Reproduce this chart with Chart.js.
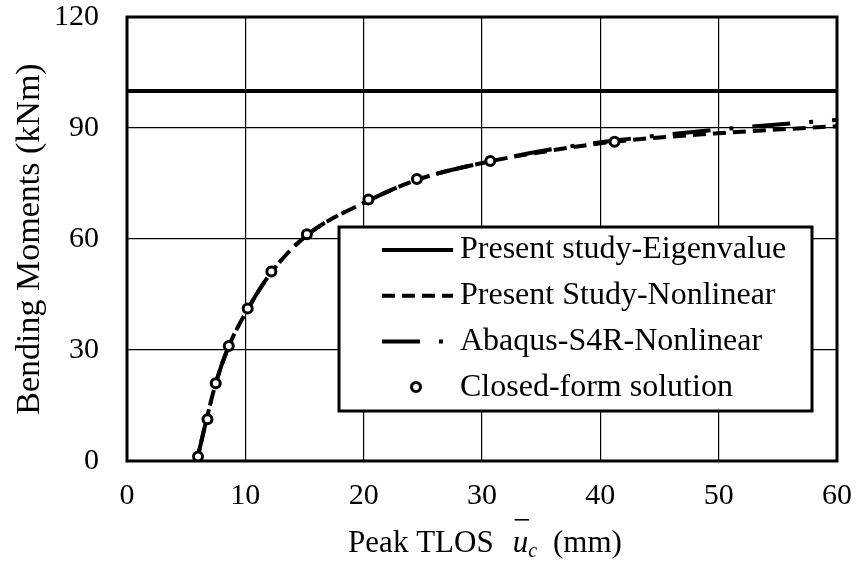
<!DOCTYPE html>
<html>
<head>
<meta charset="utf-8">
<script src="https://cdn.jsdelivr.net/npm/chart.js@4"></script>
<style>
  html, body { margin: 0; padding: 0; background: #fff; }
  #wrap { width: 857px; height: 563px; }
</style>
</head>
<body>
<div id="wrap"><canvas id="momentChart" width="857" height="563"></canvas></div>
<script>
const SERIF = '"Liberation Serif", "Times New Roman", serif';

// Present study - eigenvalue (critical moment)
const eigenX = [0, 60];
const eigenY = [100, 100];

// Present study - nonlinear
const nonlinX = [5.9, 6.7, 7.5, 8.6, 10.2, 12.2, 15.2, 20.5, 24.5, 30.7, 36, 41.2, 50, 60];
const nonlinY = [0, 11, 21, 31, 41, 51, 61, 70.5, 76, 81, 84, 86.3, 88.6, 90.5];

// Abaqus S4R - nonlinear
const abaqusX = [5.9, 6.7, 7.5, 8.6, 10.2, 12.2, 15.2, 20.5, 24.5, 30.7, 36, 41.2, 50, 60];
const abaqusY = [0, 11, 21, 31, 41, 51, 61, 70.5, 76, 81, 84.3, 86.6, 89.6, 92.2];

// closed-form solution
const closedX = [6.0, 6.8, 7.5, 8.6, 10.2, 12.2, 15.2, 20.4, 24.5, 30.7, 41.2];
const closedY = [1.2, 11.3, 21, 31.1, 41.2, 51.2, 61.3, 70.7, 76.2, 81.1, 86.3];

const xTicks = [0, 10, 20, 30, 40, 50, 60];
const yTicks = [0, 30, 60, 90, 120];

function toPoints(xs, ys) {
    return xs.map((x, i) => ({x: x, y: ys[i]}))
}

// black frame round the plot area
const framePlugin = {
    id: 'frame',
    beforeDatasetsDraw(chart) {
        const {ctx, chartArea: a} = chart
        ctx.save()
        ctx.lineWidth = 3
        ctx.strokeStyle = '#000'
        ctx.strokeRect(a.left, a.top, a.right - a.left, a.bottom - a.top)
        ctx.restore()
    }
}

// boxed legend inside the plot, built from the datasets
const boxLegend = {
    id: 'boxLegend',
    afterDraw(chart) {
        const ctx = chart.ctx
        const box = {left: 339, top: 227, right: 812, bottom: 411}
        ctx.save()
        ctx.fillStyle = '#fff'
        ctx.fillRect(box.left, box.top, box.right - box.left, box.bottom - box.top)
        ctx.lineWidth = 3
        ctx.strokeStyle = '#000'
        ctx.strokeRect(box.left, box.top, box.right - box.left, box.bottom - box.top)

        const rowH = 45.7
        let y = 250
        chart.data.datasets.forEach(ds => {
            if (ds.showLine === false) {
                ctx.beginPath()
                ctx.setLineDash([])
                ctx.lineWidth = ds.pointBorderWidth
                ctx.fillStyle = '#fff'
                ctx.arc(416, y, ds.pointRadius, 0, Math.PI * 2)
                ctx.fill()
                ctx.stroke()
            } else {
                ctx.save()
                ctx.beginPath()
                ctx.rect(382, y - 10, 71, 20)
                ctx.clip()
                ctx.beginPath()
                ctx.setLineDash(ds.borderDash || [])
                ctx.lineWidth = ds.borderWidth
                ctx.moveTo(382, y)
                ctx.lineTo(453, y)
                ctx.stroke()
                ctx.restore()
            }
            ctx.fillStyle = '#000'
            ctx.font = '32px ' + SERIF
            ctx.textBaseline = 'middle'
            ctx.textAlign = 'left'
            ctx.fillText(ds.label, 460, y)
            y += rowH
        })
        ctx.restore()
    }
}

// x axis title with italic u-bar sub c
const xTitle = {
    id: 'xTitle',
    afterDraw(chart) {
        const ctx = chart.ctx
        const a = chart.chartArea
        const base = 552
        ctx.save()
        ctx.fillStyle = '#000'
        ctx.textBaseline = 'alphabetic'
        ctx.textAlign = 'left'
        const regular = '31px ' + SERIF
        const italic = 'italic 31px ' + SERIF
        const small = 'italic 20px ' + SERIF
        ctx.font = regular
        const w1 = ctx.measureText('Peak TLOS').width
        ctx.font = italic
        const wu = ctx.measureText('u').width
        ctx.font = small
        const wc = ctx.measureText('c').width
        ctx.font = regular
        const w2 = ctx.measureText('(mm)').width
        const gap1 = 19, gap2 = 16
        const total = w1 + gap1 + wu + wc + gap2 + w2
        let x = (a.left + a.right) / 2 - total / 2 + 3
        ctx.font = regular
        ctx.fillText('Peak TLOS', x, base)
        x += w1 + gap1
        ctx.font = italic
        ctx.fillText('u', x, base)
        ctx.fillRect(x + 2, 519, wu - 1, 1.6)
        x += wu
        ctx.font = small
        ctx.fillText('c', x, base + 5)
        x += wc + gap2
        ctx.font = regular
        ctx.fillText('(mm)', x, base)
        ctx.restore()
    }
}

new Chart(document.getElementById('momentChart'), {
    type: 'scatter',
    data: {
        datasets: [
            {
                label: 'Present study-Eigenvalue',
                data: toPoints(eigenX, eigenY),
                showLine: true,
                borderColor: '#000',
                borderWidth: 4,
                pointRadius: 0,
                order: 3
            },
            {
                label: 'Present Study-Nonlinear',
                data: toPoints(nonlinX, nonlinY),
                showLine: true,
                borderColor: '#000',
                borderWidth: 4,
                borderDash: [13, 7],
                cubicInterpolationMode: 'monotone',
                pointRadius: 0,
                order: 2
            },
            {
                label: 'Abaqus-S4R-Nonlinear',
                data: toPoints(abaqusX, abaqusY),
                showLine: true,
                borderColor: '#000',
                borderWidth: 4,
                borderDash: [38, 19, 4, 19],
                cubicInterpolationMode: 'monotone',
                pointRadius: 0,
                order: 1
            },
            {
                label: 'Closed-form solution',
                data: toPoints(closedX, closedY),
                showLine: false,
                pointStyle: 'circle',
                pointRadius: 4.5,
                pointBorderWidth: 3,
                pointBorderColor: '#000',
                pointBackgroundColor: '#fff',
                order: 0
            }
        ]
    },
    options: {
        responsive: false,
        animation: false,
        devicePixelRatio: 1,
        layout: {padding: {top: 17, right: 20, left: 0, bottom: 0}},
        plugins: {
            legend: {display: false},
            tooltip: {enabled: false}
        },
        scales: {
            x: {
                type: 'linear',
                min: xTicks[0],
                max: xTicks[xTicks.length - 1],
                afterBuildTicks: s => { s.ticks = xTicks.map(v => ({value: v})) },
                afterFit: s => { s.height = 102; s.paddingLeft = 0; s.paddingRight = 0 },
                border: {display: false},
                grid: {color: '#000', lineWidth: 1.2, drawTicks: false},
                ticks: {
                    color: '#000',
                    padding: 17,
                    maxRotation: 0,
                    font: {family: SERIF, size: 30}
                }
            },
            y: {
                type: 'linear',
                min: yTicks[0],
                max: yTicks[yTicks.length - 1],
                afterBuildTicks: s => { s.ticks = yTicks.map(v => ({value: v})) },
                afterFit: s => { s.width = 127; s.paddingTop = 0; s.paddingBottom = 0 },
                border: {display: false},
                grid: {color: '#000', lineWidth: 1.2, drawTicks: false},
                ticks: {
                    color: '#000',
                    padding: 28,
                    font: {family: SERIF, size: 30}
                },
                title: {
                    display: true,
                    text: 'Bending Moments (kNm)',
                    color: '#000',
                    padding: {top: 10, bottom: 0},
                    font: {family: SERIF, size: 34, weight: 'normal'}
                }
            }
        }
    },
    plugins: [framePlugin, boxLegend, xTitle]
});
</script>
</body>
</html>
